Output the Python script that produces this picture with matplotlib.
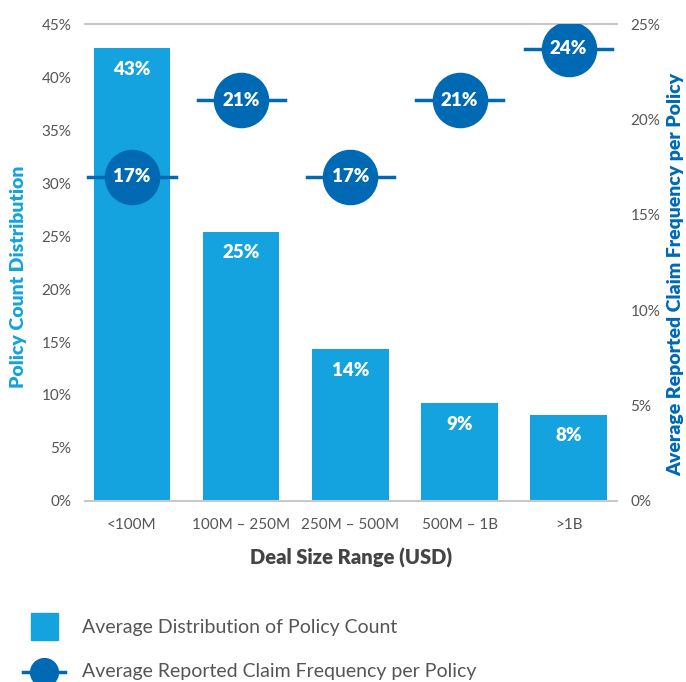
import matplotlib.pyplot as plt
from matplotlib.lines import Line2D
from matplotlib.patches import Rectangle

plt.rcParams['font.family'] = ['Lato', 'DejaVu Sans']

categories = ['<100M', '100M – 250M', '250M – 500M', '500M – 1B', '>1B']
policy_dist = [42.7, 25.4, 14.3, 9.2, 8.1]
claim_freq = [17.0, 21.0, 17.0, 21.0, 23.7]
left_ticks = [0, 5, 10, 15, 20, 25, 30, 35, 40, 45]
right_ticks = [0, 5, 10, 15, 20, 25]

bar_color = '#14a3de'
dot_color = '#0069b4'
grey = '#555555'

fig = plt.figure(figsize=(6.86, 6.82), dpi=100)
ax = fig.add_axes([0.124, 0.2654, 0.775, 0.6994])
ax2 = ax.twinx()

x = list(range(len(categories)))
bars = ax.bar(x, policy_dist, width=0.7, color=bar_color, zorder=2)
for xi, v in zip(x, policy_dist):
    ax.annotate(f'{v:.0f}%', (xi, v), xytext=(0, -15), textcoords='offset points',
                ha='center', va='center', color='white', fontsize=13.5, fontweight='heavy')

ax.set_xlim(-0.43, 4.44)
ax.set_ylim(0, 45)
ax.set_yticks(left_ticks)
ax.set_yticklabels([f'{t}%' for t in left_ticks])
ax.set_xticks(x)
ax.set_xticklabels(categories)
ax.tick_params(length=0, colors=grey, labelsize=11, pad=10)
ax.tick_params(axis='x', pad=12)
for s in ['left', 'right']:
    ax.spines[s].set_visible(False)
for s in ['top', 'bottom']:
    ax.spines[s].set_color('#c8c8c8')
    ax.spines[s].set_linewidth(1.5)
ax.set_xlabel('Deal Size Range (USD)', fontsize=14.5, fontweight='heavy', color='#444444', labelpad=12)
ax.set_ylabel('Policy Count Distribution', fontsize=14, fontweight='heavy', color=bar_color)
ax.yaxis.set_label_coords(-0.109, 0.47)

# claim frequency dots with short horizontal whiskers
for xi, v in zip(x, claim_freq):
    ax2.plot([xi - 0.4, xi + 0.4], [v, v], color=dot_color, lw=2.5, zorder=3)
ax2.plot(x, claim_freq, 'o', ms=39, color=dot_color, zorder=4)
for xi, v in zip(x, claim_freq):
    ax2.text(xi, v, f'{v:.0f}%', ha='center', va='center', color='white',
             fontsize=13.5, fontweight='heavy', zorder=5)
ax2.set_ylim(0, 25)
ax2.set_yticks(right_ticks)
ax2.set_yticklabels([f'{t}%' for t in right_ticks])
ax2.tick_params(length=0, colors=grey, labelsize=11, pad=10)
for s in ax2.spines.values():
    s.set_visible(False)
ax2.set_ylabel('Average Reported Claim Frequency per Policy', fontsize=14,
               fontweight='heavy', color=dot_color)
ax2.yaxis.set_label_coords(1.095, 0.475)

# legend drawn at the bottom
fig.add_artist(Rectangle((31 / 686, 1 - 640 / 682), 27 / 686, 27 / 682,
                         transform=fig.transFigure, color=bar_color))
fig.text(82 / 686, 1 - 628 / 682, 'Average Distribution of Policy Count',
         fontsize=14, color=grey, va='center')
ly = 1 - 672 / 682
fig.add_artist(Line2D([23 / 686, 65 / 686], [ly, ly], transform=fig.transFigure,
                      color=dot_color, lw=2.5))
fig.add_artist(Line2D([44 / 686], [ly], transform=fig.transFigure, marker='o',
                      ms=20, color=dot_color))
fig.text(82 / 686, ly, 'Average Reported Claim Frequency per Policy',
         fontsize=14, color=grey, va='center')

fig.savefig('out.png', dpi=100)
